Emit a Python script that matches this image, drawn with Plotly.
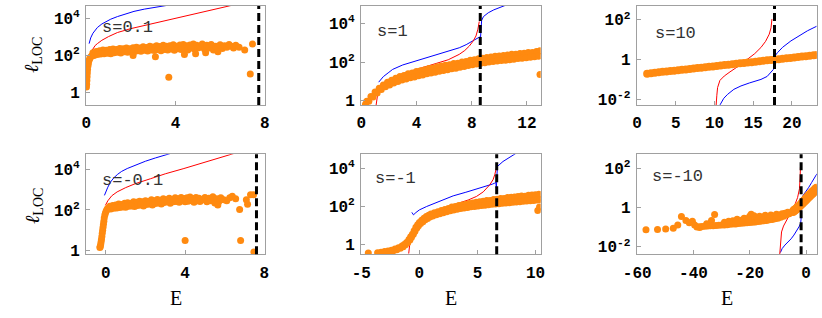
import plotly.graph_objects as go

# ---------------- DATA ----------------
# log10(l_LOC) values are stored; converted to l_LOC when plotted.

# s = 0.1
s01_E = [0.01,0.02,0.03,0.04,0.05,0.06,0.08,0.10,0.13,0.16,0.20,0.25,
         0.3,0.45,0.6,0.75,0.9,1.05,1.2,1.35,1.5,1.65,1.8,1.95,2.1,2.25,2.4,2.55,2.7,2.85,3.0,3.15,3.3,3.45,3.6,3.75,3.9,4.05,4.2,4.35,4.5,4.65,4.8,4.95,
         0.35,0.5,0.65,0.8,0.95,1.1,1.25,1.4,1.55,1.7,1.85,2.0,2.15,2.3,2.45,2.6,2.75,2.9,3.05,3.2,3.35,3.5,3.65,3.8,3.95,4.1,4.25,4.4,4.55,4.7,4.85,5.0,
         5.1,5.2,5.3,5.4,5.5,5.6,5.7,5.8,5.9,6.0,6.1,6.2,6.3,6.4,6.5,6.6,6.7,6.85,7.1,7.45,
         2.1,3.1,4.4,4.9,5.35,5.9,3.7,7.35]
s01_L = [0.30,0.45,0.65,0.85,1.05,1.25,1.45,1.60,1.75,1.85,1.92,1.98,
         2.15,2.22,2.25,2.3,2.28,2.33,2.35,2.32,2.38,2.36,2.4,2.37,2.42,2.45,2.4,2.47,2.43,2.5,2.46,2.52,2.48,2.55,2.5,2.53,2.58,2.5,2.56,2.6,2.52,2.57,2.62,2.55,
         2.0,2.05,2.08,2.1,2.12,2.1,2.15,2.18,2.14,2.2,2.17,2.22,2.2,2.25,2.23,2.28,2.24,2.3,2.27,2.32,2.25,2.33,2.3,2.35,2.28,2.36,2.32,2.38,2.3,2.4,2.35,2.4,
         2.45,2.62,2.35,2.55,2.4,2.6,2.3,2.5,2.42,2.58,2.38,2.52,2.45,2.6,2.5,2.4,2.55,2.45,2.3,2.62,
         2.0,1.93,2.05,2.1,2.15,2.2,0.83,1.0]
s01_redE = [0.24,0.3,0.4,0.5,0.7,1.0,1.4,2.0,2.89,3.6,4.37,5.0,5.8,6.43,7.0]
s01_redL = [2.24,2.38,2.54,2.64,2.82,3.02,3.24,3.45,3.69,3.9,4.11,4.27,4.47,4.68,4.85]
s01_bluE = [0.13,0.2,0.3,0.4,0.5,0.7,0.9,1.1,1.4,1.8,2.14,2.6,3.0,3.48,4.0]
s01_bluL = [2.64,2.95,3.2,3.38,3.51,3.7,3.85,3.96,4.1,4.25,4.38,4.5,4.59,4.68,4.78]

# s = 1
s1_E = [0.4,0.7,1.0,1.3,1.6,1.9,2.2,2.5,2.8,3.1,3.4,3.7,4.0,4.3,4.6,4.9,5.2,5.5,5.8,6.1,6.4,6.7,7.0,7.3,7.6,7.9,8.2,8.5,8.8,9.1,9.4,9.7,10.0,10.3,10.6,10.9,11.2,11.5,11.8,12.1,12.4,12.7,12.95,
        0.3,0.55,0.85,1.15,1.45,1.75,2.05,2.35,2.65,2.95,3.25,3.55,3.85,4.15,4.45,4.75,5.05,5.35,5.65,5.95,6.25,6.55,6.85,7.15,7.45,7.75,8.05,8.35,8.65,8.95,9.25,9.55,9.85,10.15,10.45,10.75,11.05,11.35,11.65,11.95,12.25,12.55,12.85,
        12.95]
s1_L = [-0.02,0.22,0.45,0.64,0.82,0.96,1.06,1.16,1.25,1.3,1.4,1.44,1.51,1.55,1.6,1.67,1.7,1.76,1.8,1.84,1.86,1.92,1.94,2.0,2.03,2.09,2.12,2.17,2.2,2.24,2.26,2.3,2.31,2.34,2.36,2.4,2.41,2.44,2.46,2.5,2.5,2.55,2.58,
        -0.2,-0.02,0.2,0.4,0.58,0.72,0.82,0.92,1.0,1.07,1.12,1.19,1.23,1.29,1.33,1.39,1.43,1.47,1.53,1.56,1.6,1.65,1.68,1.73,1.77,1.82,1.86,1.9,1.94,1.97,2.0,2.03,2.05,2.08,2.1,2.12,2.15,2.18,2.2,2.22,2.25,2.28,2.3,
        1.36]
s1_redE = [1.06,1.12,1.2,1.35,1.6,2.0,2.27,3.0,4.0,4.69,5.5,6.3,7.1,7.5,7.83,8.1,8.31,8.45,8.55]
s1_redL = [-0.3,0.1,0.4,0.76,0.92,1.08,1.19,1.4,1.62,1.79,1.95,2.12,2.4,2.6,2.83,3.08,3.35,3.7,4.1]
s1_bluE = [1.26,1.6,2.0,2.27,3.0,4.0,4.69,5.5,6.3,7.1,7.6,8.07,8.4,8.58,8.62,8.66,8.72,8.85,9.2,9.6,10.0,10.5]
s1_bluL = [0.96,1.25,1.47,1.62,1.85,2.07,2.22,2.38,2.55,2.74,2.9,3.09,3.2,3.3,3.05,3.7,4.15,4.35,4.55,4.7,4.82,4.95]

# s = 10
s10_E = [1.3,1.8,2.3,2.8,3.3,3.8,4.3,4.8,5.3,5.8,6.3,6.8,7.3,7.8,8.3,8.8,9.3,9.8,10.3,10.8,11.3,11.8,12.3,12.8,13.3,13.8,14.3,14.8,15.3,15.8,16.3,16.8,17.3,17.8,18.3,18.8,19.3,19.8,20.3,20.8,21.3,21.8,22.3,22.8,23.2]
s10_L = [-0.71,-0.69,-0.67,-0.645,-0.62,-0.6,-0.58,-0.56,-0.54,-0.515,-0.495,-0.47,-0.45,-0.43,-0.41,-0.39,-0.365,-0.345,-0.32,-0.3,-0.28,-0.26,-0.235,-0.215,-0.19,-0.17,-0.15,-0.13,-0.105,-0.085,-0.06,-0.04,-0.02,0.0,0.02,0.045,0.065,0.085,0.11,0.13,0.15,0.17,0.195,0.215,0.235]
s10_redE = [10.15,10.19,10.3,10.4,10.7,11.26,12.0,12.55,13.4,14.27,15.2,16.0,16.6,17.07,17.3,17.42]
s10_redL = [-2.5,-2.4,-1.8,-1.41,-1.05,-0.83,-0.62,-0.49,-0.25,0.02,0.3,0.61,0.92,1.28,1.6,2.04]
s10_bluE = [10.6,10.75,11.2,11.7,12.5,13.42,14.5,15.3,16.0,16.8,17.29,17.6,17.72,17.76,17.8,18.14,18.8,19.87,21.0,22.0,23.2]
s10_bluL = [-2.5,-2.26,-1.95,-1.75,-1.5,-1.33,-1.18,-1.08,-1.0,-0.85,-0.66,-0.5,-0.4,-0.1,0.18,0.35,0.62,0.94,1.22,1.45,1.68]

# s = -0.1
sm01_E = [-0.3,-0.28,-0.26,-0.24,-0.22,-0.2,-0.18,-0.16,-0.14,-0.12,-0.1,-0.08,-0.05,-0.02,0.02,0.06,0.1,
          0.2,0.35,0.5,0.65,0.8,0.95,1.1,1.25,1.4,1.55,1.7,1.85,2.0,2.15,2.3,2.45,2.6,2.75,2.9,3.05,3.2,3.35,3.5,3.65,3.8,3.95,4.1,4.25,4.4,4.55,4.7,
          0.25,0.4,0.55,0.7,0.85,1.0,1.15,1.3,1.45,1.6,1.75,1.9,2.05,2.2,2.35,2.5,2.65,2.8,2.95,3.1,3.25,3.4,3.55,3.7,3.85,4.0,4.15,4.3,4.45,4.6,4.75,
          4.9,5.0,5.1,5.2,5.3,5.4,5.5,5.6,5.7,5.8,5.95,6.1,6.25,6.38,6.55,
          4.0,6.8,6.75,7.47,7.09,7.15,7.3,7.45,5.65]
sm01_L = [0.15,0.2,0.3,0.42,0.55,0.7,0.85,1.0,1.15,1.3,1.45,1.6,1.75,1.85,1.95,2.02,2.08,
          2.18,2.22,2.25,2.3,2.27,2.33,2.36,2.32,2.4,2.38,2.43,2.4,2.46,2.42,2.5,2.45,2.52,2.48,2.55,2.5,2.58,2.52,2.6,2.55,2.62,2.57,2.6,2.64,2.56,2.62,2.58,
          2.05,2.08,2.1,2.12,2.15,2.13,2.18,2.2,2.17,2.22,2.25,2.2,2.27,2.3,2.25,2.32,2.35,2.3,2.37,2.4,2.33,2.4,2.42,2.38,2.45,2.4,2.43,2.47,2.38,2.45,2.42,
          2.5,2.62,2.4,2.58,2.45,2.65,2.35,2.55,2.42,2.6,2.5,2.45,2.6,2.67,2.55,
          0.5,0.5,2.03,-0.07,2.51,2.28,2.75,2.75,2.25]
sm01_redE = [-0.02,0.1,0.3,0.57,1.0,1.5,2.26,3.0,3.94,5.0,6.25,6.8]
sm01_redL = [2.23,2.45,2.7,2.89,3.1,3.3,3.54,3.78,4.04,4.35,4.72,4.88]
sm01_bluE = [-0.07,0.0,0.1,0.24,0.4,0.6,0.8,1.08,1.5,2.0,2.5,3.01,3.5]
sm01_bluL = [2.72,2.9,3.12,3.38,3.58,3.76,3.9,4.04,4.22,4.4,4.56,4.72,4.85]

# s = -1
sm1_E = [-4.4,-3.6,
         -3.3,-3.0,-2.7,-2.4,-2.1,-1.8,-1.5,-1.3,-1.1,-0.9,-0.75,-0.6,-0.45,-0.3,-0.15,0.0,0.2,0.4,0.6,0.8,1.0,1.3,1.6,1.9,2.2,2.5,2.8,3.1,3.4,3.7,4.0,4.3,4.6,4.9,5.2,5.5,5.8,6.1,6.4,6.7,7.0,7.3,7.6,7.9,8.2,8.5,8.8,9.1,9.4,9.7,10.0,10.3,
         -3.15,-2.85,-2.55,-2.25,-1.95,-1.65,-1.4,-1.2,-1.0,-0.82,-0.68,-0.52,-0.38,-0.22,-0.08,0.1,0.3,0.5,0.7,0.9,1.15,1.45,1.75,2.05,2.35,2.65,2.95,3.25,3.55,3.85,4.15,4.45,4.75,5.05,5.35,5.65,5.95,6.25,6.55,6.85,7.15,7.45,7.75,8.05,8.35,8.65,8.95,9.25,9.55,9.85,10.15,10.4,
         10.2,10.35]
sm1_L = [-0.47,-0.46,
         -0.43,-0.39,-0.36,-0.32,-0.26,-0.2,-0.1,-0.02,0.08,0.24,0.38,0.52,0.7,0.88,1.02,1.13,1.26,1.36,1.45,1.52,1.58,1.65,1.7,1.77,1.82,1.88,1.95,1.98,2.03,2.06,2.1,2.14,2.16,2.2,2.23,2.26,2.3,2.3,2.35,2.36,2.4,2.4,2.45,2.46,2.48,2.5,2.53,2.52,2.57,2.58,2.6,2.62,
         -0.48,-0.44,-0.4,-0.35,-0.3,-0.22,-0.14,-0.04,0.08,0.22,0.36,0.52,0.68,0.84,0.96,1.08,1.18,1.28,1.35,1.42,1.48,1.54,1.6,1.65,1.7,1.75,1.8,1.84,1.87,1.9,1.93,1.96,1.98,2.0,2.03,2.05,2.07,2.1,2.11,2.13,2.15,2.17,2.18,2.2,2.22,2.23,2.25,2.27,2.28,2.3,2.32,2.33,
         1.77,1.95]
sm1_redE = [-0.92,-0.85,-0.7,-0.5,-0.2,0.2,0.8,1.5,2.2,2.91,3.5,4.2,4.92,5.5,6.06,6.35,6.49,6.58,6.63]
sm1_redL = [-0.5,-0.1,0.35,0.62,0.95,1.25,1.5,1.68,1.84,2.02,2.18,2.32,2.51,2.75,3.12,3.4,3.65,3.85,4.0]
sm1_bluE = [-0.65,-0.58,-0.51,-0.3,0.0,0.63,1.5,2.91,4.0,4.92,5.8,6.3,6.49,6.58,6.63,6.68,6.72,7.2,7.6,8.05,8.5]
sm1_bluL = [1.67,1.58,1.54,1.66,1.8,1.98,2.2,2.54,2.73,2.89,3.05,3.16,3.21,3.25,2.95,3.6,4.09,4.35,4.52,4.7,4.85]

# s = -10
sm10_E = [-56.9,-52.8,-49.9,-47.2,-45.6,-44.3,-42.7,-41.5,-40.4,-39.6,-38.8,-37.8,-35.3,-33.6,-32.5,
          -38,-37,-36,-35,-34,-33,-32,-31,-30,-29,-28,-27,-26,-25,-24,-23,-22,-21,-20,-19,-18,-17,-16,-15,-14,-13,-12,-11,-10,-9,-8,-7,-6,-5,
          -4.7,-4.4,-4.1,-3.8,-3.5,-3.2,-2.9,-2.6,-2.3,-2.0,-1.7,-1.4,-1.1,-0.8,-0.5,-0.2,0.1,0.4,0.7,1.0,1.3,1.6,1.9,2.2,2.5,2.8,3.1,3.4,3.7,
          -4.55,-4.25,-3.95,-3.65,-3.35,-3.05,-2.75,-2.45,-2.15,-1.85,-1.55,-1.25,-0.95,-0.65,-0.35,-0.05,0.25,0.55,0.85,1.15,1.45,1.75,2.05,2.35,2.65,2.95,3.25,3.55,3.8,
          -29,-27.5,-26,-24.5,-23,-22,-21,-20,-19.5,-18.5,-17.5,-16.5,-15.5,-14.5,-13.5,-12.5,-11.5,-10.5,-9.5,-8.5,-7.5,-6.5,-25,-20.5,-17,-13,-10,-8]
sm10_L = [-1.14,-1.12,-1.1,-1.06,-0.89,-0.46,-0.66,-0.78,-0.7,-0.9,-1.0,-1.02,-0.83,-0.66,-0.36,
          -0.98,-0.97,-0.96,-0.95,-0.94,-0.93,-0.92,-0.91,-0.9,-0.89,-0.88,-0.86,-0.85,-0.84,-0.82,-0.81,-0.8,-0.78,-0.77,-0.75,-0.74,-0.72,-0.7,-0.68,-0.66,-0.63,-0.61,-0.58,-0.55,-0.5,-0.45,-0.39,-0.32,-0.24,
          -0.15,-0.11,-0.08,-0.05,-0.01,0.03,0.07,0.1,0.14,0.19,0.24,0.28,0.33,0.38,0.43,0.48,0.53,0.58,0.62,0.67,0.71,0.75,0.8,0.84,0.88,0.92,0.96,1.0,1.03,
          -0.26,-0.22,-0.19,-0.16,-0.12,-0.08,-0.04,0.0,0.04,0.08,0.12,0.16,0.2,0.25,0.29,0.33,0.38,0.42,0.47,0.51,0.55,0.6,0.63,0.67,0.71,0.75,0.78,0.82,0.85,
          -0.75,-0.7,-0.68,-0.6,-0.65,-0.55,-0.58,-0.45,-0.35,-0.42,-0.5,-0.45,-0.5,-0.4,-0.48,-0.38,-0.45,-0.35,-0.38,-0.32,-0.3,-0.25,-0.78,-0.62,-0.6,-0.55,-0.45,-0.38]
sm10_redE = [-9.4,-9.3,-9.1,-8.7,-8.0,-6.96,-5.5,-4.07,-3.0,-2.33,-2.1,-1.98]
sm10_redL = [-2.5,-2.24,-1.6,-1.25,-0.95,-0.66,-0.25,0.1,0.5,0.95,1.5,2.06]
sm10_bluE = [-9.1,-8.5,-7.5,-6.4,-5.3,-4.3,-3.3,-2.33,-1.9,-1.76,-1.74,-1.7,-1.5,-1.0,0.0,1.0,2.0,3.0,3.9]
sm10_bluL = [-2.3,-2.1,-1.92,-1.77,-1.6,-1.41,-1.2,-0.95,-0.8,-0.6,0.0,0.36,0.5,0.62,0.8,1.03,1.27,1.5,1.72]

# critical energies (dashed lines)
E_crit = [7.73, 8.62, 17.75, 7.6, 6.66, -1.74]
panel_labels = ["s=0.1", "s=1", "s=10", "s=-0.1", "s=-1", "s=-10"]

# tick values / labels
xtick_vals = [[0, 4, 8], [0, 4, 8, 12], [0, 5, 10, 15, 20],
              [0, 4, 8], [-5, 0, 5, 10], [-60, -40, -20, 0]]
ytick_big = [1, 100, 10000]
ytick_big_text = ["1", "10<sup>2</sup>", "10<sup>4</sup>"]
ytick_small = [0.01, 1, 100]
ytick_small_text = ["10<sup>-2</sup>", "1", "10<sup>2</sup>"]

# ---------------- LAYOUT ----------------
W, H = 822, 318
ORANGE = "#ff8a10"
GREY = "#a0a0a0"

panels = [
    (s01_E, s01_L, s01_redE, s01_redL, s01_bluE, s01_bluL),
    (s1_E, s1_L, s1_redE, s1_redL, s1_bluE, s1_bluL),
    (s10_E, s10_L, s10_redE, s10_redL, s10_bluE, s10_bluL),
    (sm01_E, sm01_L, sm01_redE, sm01_redL, sm01_bluE, sm01_bluL),
    (sm1_E, sm1_L, sm1_redE, sm1_redL, sm1_bluE, sm1_bluL),
    (sm10_E, sm10_L, sm10_redE, sm10_redL, sm10_bluE, sm10_bluL),
]

# pixel frames (left, right, top, bottom)
col_px = [(86, 265), (361, 540.7), (636.7, 816.7)]
row_px = [(6, 105), (154.3, 254.3)]
x_ranges = [[-0.01, 8.01], [-0.02, 13.0], [-0.05, 23.2],
            [-1.0, 8.03], [-5.03, 10.45], [-60.2, 3.8]]
y_ranges = [[-0.67, 4.67], [-0.22, 4.9], [-2.29, 2.7],
            [-0.18, 4.74], [-0.54, 4.73], [-2.39, 2.71]]
small_y = [False, False, True, False, False, True]

fig = go.Figure()
layout = dict(width=W, height=H, margin=dict(l=0, r=0, t=0, b=0, autoexpand=False),
              paper_bgcolor="white", plot_bgcolor="white", showlegend=False)
shapes = []
annotations = []
tickfont = dict(family="Liberation Mono", size=16, color="black", weight="bold")

for i, (E, L, rE, rL, bE, bL) in enumerate(panels):
    n = i + 1
    xa = "x" if n == 1 else f"x{n}"
    ya = "y" if n == 1 else f"y{n}"
    xkey = "xaxis" if n == 1 else f"xaxis{n}"
    ykey = "yaxis" if n == 1 else f"yaxis{n}"
    c, r = i % 3, i // 3
    x0, x1 = col_px[c]
    t, b = row_px[r]
    layout[xkey] = dict(domain=[x0 / W, x1 / W], range=x_ranges[i], anchor=ya,
                        automargin=False,
                        showline=True, mirror=True, linecolor=GREY, linewidth=1,
                        ticks="inside", ticklen=4, tickcolor=GREY,
                        tickvals=xtick_vals[i], ticktext=[str(v) for v in xtick_vals[i]],
                        tickfont=tickfont, ticklabelstandoff=3,
                        showgrid=False, zeroline=False)
    tv = ytick_small if small_y[i] else ytick_big
    tt = ytick_small_text if small_y[i] else ytick_big_text
    layout[ykey] = dict(domain=[1 - b / H, 1 - t / H], type="log", range=y_ranges[i],
                        anchor=xa, automargin=False,
                        showline=True, mirror=True, linecolor=GREY, linewidth=1,
                        ticks="inside", ticklen=4, tickcolor=GREY,
                        tickvals=tv, ticktext=tt, tickfont=tickfont, ticklabelstandoff=2,
                        showgrid=False, zeroline=False)
    fig.add_trace(go.Scatter(x=bE, y=[10 ** v for v in bL], mode="lines",
                             line=dict(color="#0000ff", width=1), xaxis=xa, yaxis=ya))
    fig.add_trace(go.Scatter(x=rE, y=[10 ** v for v in rL], mode="lines",
                             line=dict(color="#ff0000", width=1), xaxis=xa, yaxis=ya))
    fig.add_trace(go.Scatter(x=E, y=[10 ** v for v in L], mode="markers",
                             marker=dict(color=ORANGE, size=8 if i == 2 else 7,
                                         line=dict(width=0)),
                             xaxis=xa, yaxis=ya))
    shapes.append(dict(type="line", xref=xa, yref=f"{ya} domain",
                       x0=E_crit[i], x1=E_crit[i], y0=0, y1=1,
                       line=dict(color="black", width=3, dash="8px,4px"), layer="above"))
    # panel label
    lab_px = [(100, 28), (375, 32), (653, 34), (100, 180), (373, 178), (650, 176)][i]
    annotations.append(dict(text=panel_labels[i], xref="paper", yref="paper",
                            x=lab_px[0] / W, y=1 - lab_px[1] / H, xanchor="left", yanchor="middle",
                            showarrow=False, font=dict(family="Liberation Mono", size=17, color="#333")))

# axis titles
for yc in (55, 206):
    annotations.append(dict(text="<i>ℓ</i><sub>LOC</sub>", xref="paper", yref="paper",
                            x=33 / W, y=1 - yc / H, xanchor="center", yanchor="middle",
                            textangle=-90, showarrow=False,
                            font=dict(family="Liberation Serif", size=20, color="black")))
for xc in (176, 451, 727):
    annotations.append(dict(text="E", xref="paper", yref="paper",
                            x=xc / W, y=1 - 298 / H, xanchor="center", yanchor="middle",
                            showarrow=False,
                            font=dict(family="Liberation Serif", size=20, color="black")))

layout["shapes"] = shapes
layout["annotations"] = annotations
fig.update_layout(**layout)
fig.write_html("out.html", config={"displayModeBar": False},
               post_script="document.body.style.margin='0px';document.body.style.overflow='hidden';")
